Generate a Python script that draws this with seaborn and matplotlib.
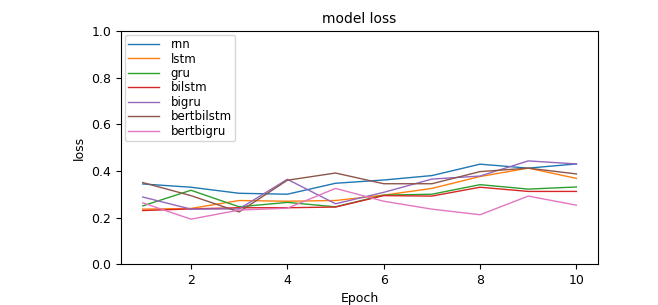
import pandas as pd
import matplotlib
matplotlib.use("Agg")
import matplotlib.pyplot as plt
import seaborn as sns

# Data
epochs = list(range(1, 11))
models = ['rnn', 'lstm', 'gru', 'bilstm', 'bigru', 'bertbilstm', 'bertbigru']
rnn = [0.344, 0.330, 0.304, 0.300, 0.347, 0.361, 0.380, 0.429, 0.412, 0.430]
lstm = [0.236, 0.239, 0.273, 0.270, 0.273, 0.296, 0.325, 0.376, 0.412, 0.368]
gru = [0.250, 0.317, 0.246, 0.265, 0.246, 0.296, 0.300, 0.341, 0.322, 0.331]
bilstm = [0.230, 0.237, 0.242, 0.242, 0.245, 0.294, 0.292, 0.330, 0.312, 0.312]
bigru = [0.288, 0.236, 0.237, 0.364, 0.259, 0.308, 0.365, 0.378, 0.443, 0.430]
bertbilstm = [0.350, 0.294, 0.224, 0.360, 0.391, 0.345, 0.345, 0.397, 0.412, 0.387]
bertbigru = [0.263, 0.193, 0.232, 0.240, 0.325, 0.270, 0.236, 0.212, 0.292, 0.253]

series = [rnn, lstm, gru, bilstm, bigru, bertbilstm, bertbigru]
df = pd.DataFrame({
    'Epoch': epochs * len(models),
    'loss': sum(series, []),
    'model': [m for m in models for _ in epochs],
})

fig = plt.figure(figsize=(6.58, 3.05), dpi=100)
ax = fig.add_axes([0.184, 0.134, 0.725, 0.764])

sns.lineplot(data=df, x='Epoch', y='loss', hue='model', hue_order=models,
             palette=sns.color_palette('tab10', len(models)), linewidth=1.0, ax=ax)

ax.set_ylim(0, 1.0)
ax.set_xlim(0.55, 10.45)
ax.set_xticks([2, 4, 6, 8, 10])
ax.set_title('model loss', fontsize=10)
ax.set_xlabel('Epoch', fontsize=9)
ax.set_ylabel('loss', fontsize=9)
ax.tick_params(labelsize=9)
ax.legend(loc='upper left', fontsize=8.5, handlelength=2.6, labelspacing=0.12,
          handletextpad=1.0, borderaxespad=0.3, borderpad=0.3)

fig.savefig('out.png', dpi=100)
